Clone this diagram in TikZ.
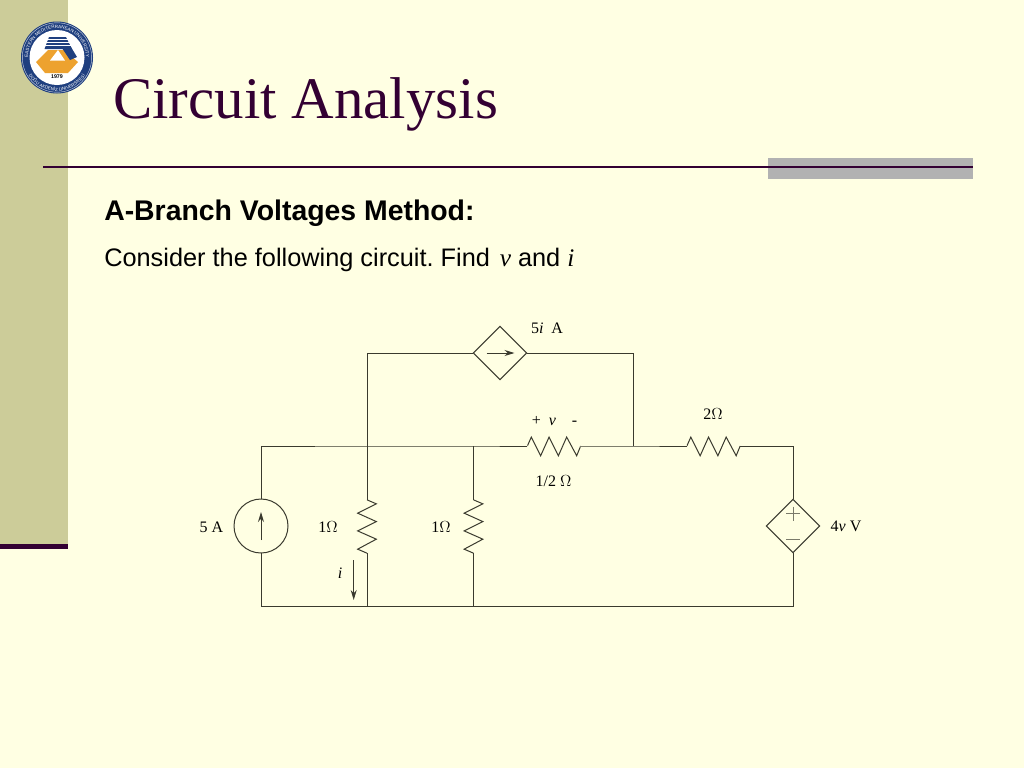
\documentclass[tikz,border=0pt]{standalone}
\usepackage{fontspec}
\setmainfont{Liberation Serif}
\newfontfamily\arialfont{Liberation Sans}
\usetikzlibrary{arrows.meta,shapes.geometric,decorations.text}
\definecolor{slidebg}{HTML}{FFFFE3}
\definecolor{bandcol}{HTML}{CCCC99}
\definecolor{titlecol}{HTML}{330033}
\definecolor{barcol}{HTML}{B2B2B2}
\definecolor{logoblue}{HTML}{1F3F7F}
\definecolor{logoorange}{HTML}{EDA22F}
\definecolor{wirecol}{HTML}{3A3A2E}
\definecolor{signcol}{HTML}{7A7A6A}
\frenchspacing

\tikzset{
	wire/.style={draw=wirecol,line width=0.75pt},
	lbl/.style={font=\fontsize{12}{14}\selectfont,text=black,inner sep=0pt},
	heads/.style={wire,-{Stealth[length=7.5pt,width=4.5pt]}},
	hres/.style={minimum width=40pt,minimum height=16pt,inner sep=0pt,outer sep=0pt,
		path picture={\draw[wire] ([xshift=-20pt]path picture bounding box.center)
			-- ++(3pt,6.7pt) -- ++(7pt,-14pt) -- ++(6.3pt,14pt) -- ++(7pt,-14pt)
			-- ++(6.2pt,14pt) -- ++(7.5pt,-14pt) -- ++(3pt,7.3pt);}},
	vres/.style={minimum width=16pt,minimum height=40pt,inner sep=0pt,outer sep=0pt,
		path picture={\draw[wire] ([yshift=20pt]path picture bounding box.center)
			-- ++(7pt,-3pt) -- ++(-14pt,-7pt) -- ++(14pt,-6.3pt) -- ++(-14pt,-7pt)
			-- ++(14pt,-6.2pt) -- ++(-14pt,-7.5pt) -- ++(7pt,-3pt);}},
	csrc/.style={circle,wire,minimum size=40.5pt,inner sep=0pt,outer sep=0pt},
	dsrc/.style={diamond,wire,minimum size=40pt,inner sep=0pt,outer sep=0pt,aspect=1}
}

\begin{document}
\begin{tikzpicture}[x=0.75pt,y=-0.75pt]
	\useasboundingbox (0,0) rectangle (1024,768);
	% slide background
	\fill[slidebg] (0,0) rectangle (1024,768);
	\fill[bandcol] (0,0) rectangle (68,544);
	\fill[titlecol] (0,544) rectangle (68,548.5);
	\fill[barcol] (768,158) rectangle (973,179);
	\fill[titlecol] (43,165.8) rectangle (973,168.4);

	% logo
	\fill[logoblue] (57,57.5) circle (36);
	\draw[white!80!logoblue,line width=0.3pt] (57,57.5) circle (34.7);
	\fill[white] (57,57.5) circle (27.5);
	\path[postaction={decorate,decoration={text along path,text align=center,
		text={|\fontsize{3.4}{4}\selectfont\arialfont\color{white}|EASTERN MEDITERRANEAN UNIVERSITY}}}]
		(28.44,62.54) arc[start angle=170,end angle=370,radius=29];
	\path[postaction={decorate,decoration={text along path,text align=center,
		text={|\fontsize{3.4}{4}\selectfont\arialfont\color{white}|DOĞU AKDENİZ ÜNİVERSİTESİ}}}]
		(26.55,71.7) arc[start angle=155,end angle=25,radius=33.6];
	\fill[logoorange] (36,62) -- (48,50) -- (64,50) -- (78,62) -- (68,73) -- (45,73) -- cycle;
	\fill[white] (50,60.5) -- (58,50) -- (65,60.5) -- cycle;
	\fill[logoblue] (58,42) -- (65,37) -- (77,57) -- (70,60) -- cycle;
	\fill[logoblue] (49,37) -- (66,37) -- (72,49) -- (44.5,49) -- cycle;
	\foreach \yy in {39.5,42.5,45.5}
		\draw[white,line width=0.6pt] (44,\yy) -- (72,\yy);
	\node[font=\fontsize{4}{4}\selectfont\bfseries\arialfont,text=black,inner sep=0pt] (year) at (57,77) {1979};

	% slide texts
	\node[anchor=west,inner sep=0pt,text=titlecol,font=\fontsize{44.2}{48}\selectfont] (title) at (113,104) {Circuit Analysis};
	\node[anchor=west,inner sep=0pt,font=\arialfont\bfseries\fontsize{21.3}{24}\selectfont] (head) at (104,213) {A-Branch Voltages Method:};
	\node[anchor=west,inner sep=0pt,font=\arialfont\fontsize{19}{22}\selectfont] (task) at (104,259.5)
		{Consider the following circuit. Find\hspace{2pt} {\rmfamily\itshape v} and {\rmfamily\itshape i}};

	% elements
	\node[csrc] (src5) at (261,526) {};
	\node[dsrc] (src5i) at (500,353) {};
	\node[dsrc] (src4v) at (793,526) {};
	\node[hres] (rhalf) at (554,446) {};
	\node[hres] (rtwo) at (713.5,446) {};
	\node[vres] (rleft) at (367,526.5) {};
	\node[vres] (rmid) at (473.5,526.5) {};

	% corners and junctions
	\coordinate (tl) at (261,446);
	\coordinate (bl) at (261,606);
	\coordinate (tr) at (793,446);
	\coordinate (br) at (793,606);
	\coordinate (ja) at (367,446);
	\coordinate (jb) at (473.5,446);
	\coordinate (jc) at (633,446);
	\coordinate (ka) at (367,606);
	\coordinate (kb) at (473.5,606);
	\coordinate (up) at (367,353);
	\coordinate (uq) at (633,353);

	% wires
	\draw[wire] (src5.north) -- (tl) -- (ja) -- (jb) -- (rhalf.west);
	\draw[wire] (rhalf.east) -- (jc) -- (rtwo.west);
	\draw[wire] (rtwo.east) -- (tr) -- (src4v.north);
	\draw[wire] (src4v.south) -- (br) -- (kb) -- (ka) -- (bl) -- (src5.south);
	\draw[wire] (ja) -- (rleft.north);
	\draw[wire] (rleft.south) -- (ka);
	\draw[wire] (jb) -- (rmid.north);
	\draw[wire] (rmid.south) -- (kb);
	\draw[wire] (ja) -- (up) -- (src5i.west);
	\draw[wire] (src5i.east) -- (uq) -- (jc);

	% arrows inside the sources, current i
	\coordinate (a1) at (261,540);
	\coordinate (a2) at (261,512);
	\coordinate (a3) at (486.5,353);
	\coordinate (a4) at (514.5,353);
	\coordinate (a5) at (353.7,560);
	\coordinate (a6) at (353.7,600);
	\draw[heads] (a1) -- (a2);
	\draw[heads] (a3) -- (a4);
	\draw[heads] (a5) -- (a6);

	% plus and minus of the voltage source
	\coordinate (p1) at (786,513.5);
	\coordinate (p2) at (800,513.5);
	\coordinate (p3) at (793,506.5);
	\coordinate (p4) at (793,520.5);
	\coordinate (m1) at (786,539.5);
	\coordinate (m2) at (800,539.5);
	\draw[draw=signcol,line width=0.75pt] (p1) -- (p2) (p3) -- (p4) (m1) -- (m2);

	% labels
	\node[lbl] (l5a) at (211.5,527) {5 A};
	\node[lbl] (l1a) at (328,527.5) {1$\Omega$};
	\node[lbl] (l1b) at (441,527.5) {1$\Omega$};
	\node[lbl] (li) at (340,573) {\itshape i};
	\node[lbl] (l5i) at (547,328) {5\textit{i}~~A};
	\node[lbl] (lv) at (554.5,421.5) {+~~\textit{v}~~~~-};
	\node[lbl] (lhalf) at (553.5,481) {1/2 $\Omega$};
	\node[lbl] (l2) at (713,414.5) {2$\Omega$};
	\node[lbl] (l4v) at (846,526.5) {4\textit{v} V};
\end{tikzpicture}
\end{document}
